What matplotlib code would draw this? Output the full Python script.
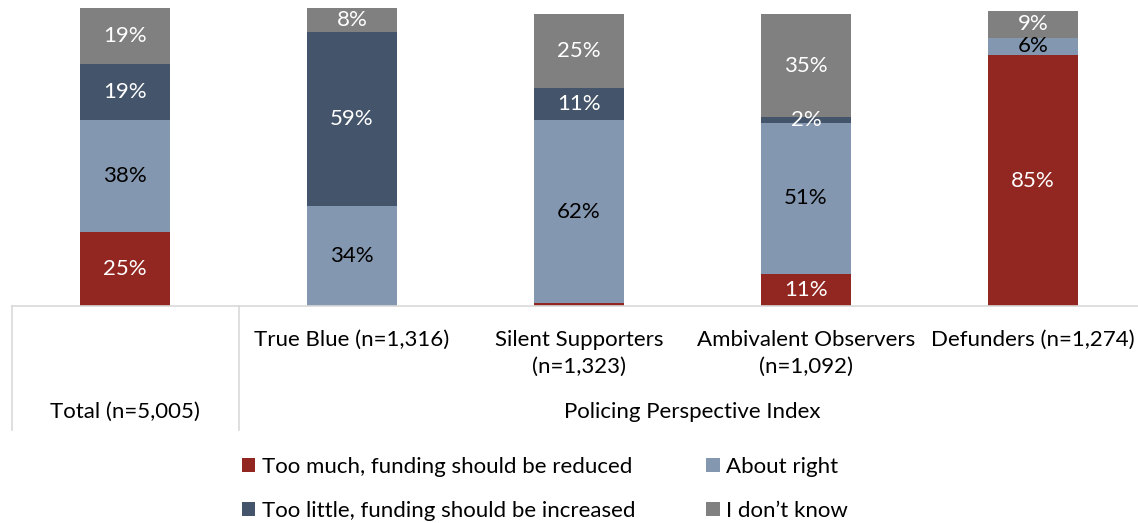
import numpy as np
import matplotlib.pyplot as plt
from matplotlib.patches import Patch
from matplotlib.transforms import blended_transform_factory

plt.rcParams['font.family'] = ['Lato', 'DejaVu Sans']

# Share of respondents per group (percent)
groups = ['Total (n=5,005)', 'True Blue (n=1,316)', 'Silent Supporters\n(n=1,323)',
          'Ambivalent Observers\n(n=1,092)', 'Defunders (n=1,274)']
too_much = [25, 0, 1, 11, 85]
about_right = [38, 34, 62, 51, 6]
too_little = [19, 59, 11, 2, 0]
dont_know = [19, 8, 25, 35, 9]

series_names = ['Too much, funding should be reduced', 'About right',
                'Too little, funding should be increased', 'I don\u2019t know']
series_colors = ['#922620', '#8497b0', '#44546a', '#808080']
text_colors = ['white', 'black', 'white', 'white']

FS = 16
W, H = 1138, 523
fig = plt.figure(figsize=(W / 100, H / 100), dpi=100)
# axes runs a little past the right edge of the figure
ax = fig.add_axes([11.5 / W, (H - 306) / H, 1135 / W, 298 / H])

x = np.arange(len(groups))
bottom = np.zeros(len(groups))
for vals, color, tcol in zip([too_much, about_right, too_little, dont_know],
                             series_colors, text_colors):
    vals = np.array(vals, dtype=float)
    ax.bar(x, vals, width=0.4, bottom=bottom, color=color, edgecolor='none')
    for xi, b, v in zip(x, bottom, vals):
        if v >= 2:
            ax.text(xi, b + v / 2, f'{v:.0f}%', ha='center', va='center',
                    color=tcol, fontsize=FS)
    bottom += vals

ax.set_xlim(-0.5, len(groups) - 0.5)
ax.set_ylim(0, 101)
ax.axis('off')

# category axis drawn as a small table below the bars
trans = blended_transform_factory(ax.transData, fig.transFigure)
y_base = (H - 306) / H
y_end = (H - 430) / H
line_kw = dict(color='#d9d9d9', lw=1.2, transform=trans, clip_on=False)
ax.plot([-0.5, len(groups) - 0.5], [y_base, y_base], **line_kw)
ax.plot([-0.5, -0.5], [y_base, y_end], **line_kw)
ax.plot([0.5, 0.5], [y_base, y_end], **line_kw)

for xi, name in zip(x[1:], groups[1:]):
    ax.text(xi, (H - 330) / H, name, ha='center', va='top', fontsize=FS,
            linespacing=1.45, transform=trans)
ax.text(0, (H - 412) / H, groups[0], ha='center', va='center', fontsize=FS,
        transform=trans)
ax.text(2.5, (H - 412) / H, 'Policing Perspective Index', ha='center', va='center',
        fontsize=FS, transform=trans)

handles = [Patch(facecolor=c, edgecolor='none') for c in series_colors]
order = [0, 2, 1, 3]
fig.legend([handles[i] for i in order], [series_names[i] for i in order],
           ncol=2, loc='center', bbox_to_anchor=(545 / W, (H - 489) / H),
           frameon=False, fontsize=FS, handlelength=0.6, handleheight=0.6,
           handletextpad=0.3, columnspacing=3.2, labelspacing=1.1,
           borderpad=0)

fig.savefig('out.png', dpi=100)
